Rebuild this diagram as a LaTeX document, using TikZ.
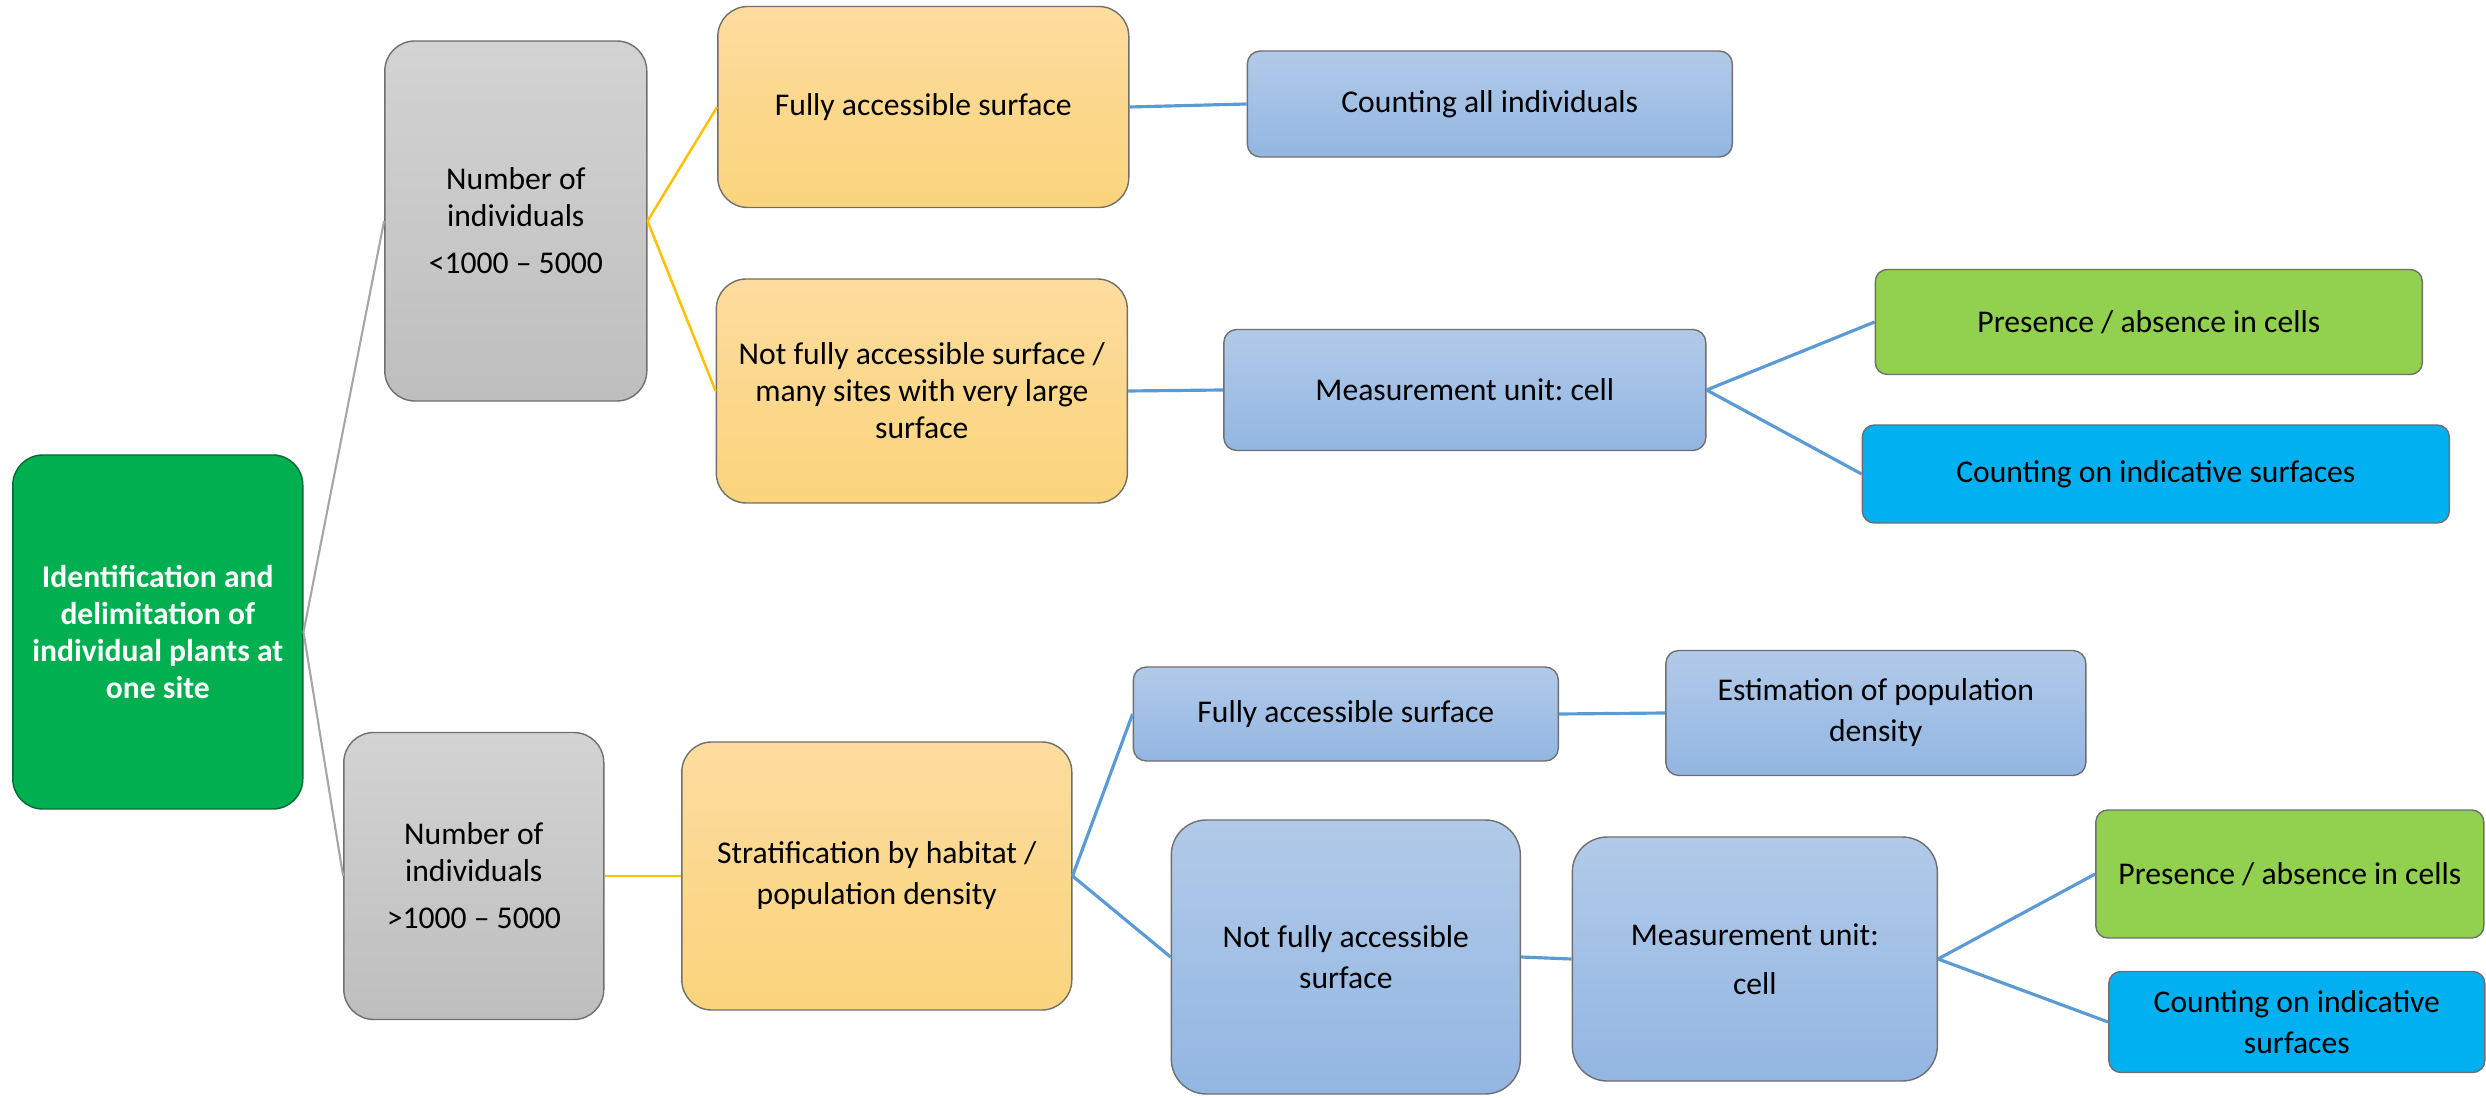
\documentclass[tikz,border=0pt]{standalone}
\usepackage{fontspec}
\setmainfont{Carlito}
\usepackage{tikz}
\frenchspacing

\definecolor{rootgreen}{HTML}{00B050}
\definecolor{greytop}{HTML}{D3D3D3}
\definecolor{greybot}{HTML}{BEBEBE}
\definecolor{orangetop}{HTML}{FDDC9E}
\definecolor{orangebot}{HTML}{FBD47C}
\definecolor{bluetop}{HTML}{B2CAE9}
\definecolor{bluebot}{HTML}{92B6E2}
\definecolor{lightgreen}{HTML}{92D050}
\definecolor{cyanbox}{HTML}{00B0F0}
\definecolor{lineblue}{HTML}{5B9BD5}
\definecolor{lineyellow}{HTML}{FFC000}
\definecolor{linegrey}{HTML}{A6A6A6}
\definecolor{edgegrey}{HTML}{6F6F6F}

\begin{document}
\begin{tikzpicture}[node distance=4cm, every node/.style={rectangle, align=center, inner sep=2pt, font=\fontsize{9}{10.5}\selectfont},
    rootbox/.style={draw=rootgreen!60!black, line width=0.4pt, fill=rootgreen, rounded corners=0.3cm, text=white, font=\fontsize{9}{10.6}\selectfont\bfseries},
    greybox/.style={draw=edgegrey, line width=0.4pt, top color=greytop, bottom color=greybot, rounded corners=0.3cm},
    orangebox/.style={draw=edgegrey, line width=0.4pt, top color=orangetop, bottom color=orangebot, rounded corners=0.3cm},
    bluebox/.style={draw=edgegrey, line width=0.4pt, top color=bluetop, bottom color=bluebot, rounded corners=0.13cm},
    greenbox/.style={draw=edgegrey, line width=0.4pt, fill=lightgreen, rounded corners=0.12cm},
    cyanbox/.style={draw=edgegrey, line width=0.4pt, fill=cyanbox, rounded corners=0.12cm},
    greyline/.style={linegrey, line width=0.6pt},
    yellowline/.style={lineyellow, line width=0.7pt},
    blueline/.style={lineblue, line width=0.9pt}]
        \useasboundingbox (0,0) rectangle (24.86,-10.98);

        % Nodes
        \node (Root) [rootbox, minimum width=2.90cm, minimum height=3.54cm] at (1.578,-6.32) {Identification and\\ delimitation of\\ individual plants at\\ one site};
        \node (Few) [greybox, minimum width=2.62cm, minimum height=3.60cm, right of=Root, xshift=-0.42cm, yshift=4.11cm] {Number of\\ individuals\\[0.1cm] <1000 -- 5000};
        \node (Many) [greybox, minimum width=2.60cm, minimum height=2.87cm, right of=Root, xshift=-0.84cm, yshift=-2.44cm] {Number of\\ individuals\\[0.1cm] >1000 -- 5000};

        \node (FullA) [orangebox, minimum width=4.11cm, minimum height=2.01cm, right of=Few, xshift=0.075cm, yshift=1.14cm] {Fully accessible surface};
        \node (PartA) [orangebox, minimum width=4.11cm, minimum height=2.24cm, right of=Few, xshift=0.06cm, yshift=-1.70cm] {Not fully accessible surface /\\ many sites with very large\\ surface};
        \node (CountAll) [bluebox, minimum width=4.85cm, minimum height=1.06cm, right of=FullA, xshift=1.665cm, yshift=0.03cm] {Counting all individuals};
        \node (CellA) [bluebox, minimum width=4.82cm, minimum height=1.21cm, right of=PartA, xshift=1.43cm, yshift=0.01cm] {Measurement unit: cell};
        \node (PresA) [greenbox, minimum width=5.47cm, minimum height=1.05cm, right of=CellA, xshift=2.84cm, yshift=0.68cm] {Presence / absence in cells};
        \node (IndA) [cyanbox, minimum width=5.87cm, minimum height=0.98cm, right of=CellA, xshift=2.91cm, yshift=-0.84cm] {Counting on indicative surfaces};

        \node (Strat) [orangebox, minimum width=3.90cm, minimum height=2.68cm, right of=Many, xshift=0.03cm] {Stratification by habitat /\\[0.04cm] population density};
        \node (FullB) [bluebox, minimum width=4.25cm, minimum height=0.94cm, right of=Strat, xshift=0.69cm, yshift=1.62cm] {Fully accessible surface};
        \node (Dens) [bluebox, minimum width=4.20cm, minimum height=1.25cm, right of=FullB, xshift=1.30cm, yshift=0.01cm] {Estimation of population\\[0.04cm] density};
        \node (PartB) [bluebox, rounded corners=0.35cm, minimum width=3.49cm, minimum height=2.74cm, right of=Strat, xshift=0.69cm, yshift=-0.81cm] {Not fully accessible\\[0.04cm] surface};
        \node (CellB) [bluebox, rounded corners=0.35cm, minimum width=3.65cm, minimum height=2.44cm, right of=PartB, xshift=0.09cm, yshift=-0.02cm] {Measurement unit:\\[0.12cm] cell};
        \node (PresB) [greenbox, minimum width=3.88cm, minimum height=1.28cm, right of=CellB, xshift=1.35cm, yshift=0.85cm] {Presence / absence in cells};
        \node (IndB) [cyanbox, minimum width=3.76cm, minimum height=1.01cm, right of=CellB, xshift=1.42cm, yshift=-0.63cm] {Counting on indicative\\[0.04cm] surfaces};

        % Lines
        \draw[greyline] (Root.east) -- (Few.west);
        \draw[greyline] (Root.east) -- (Many.west);
        \draw[yellowline] (Few.east) -- (FullA.west);
        \draw[yellowline] (Few.east) -- (PartA.west);
        \draw[yellowline] (Many.east) -- (Strat.west);
        \draw[blueline] (FullA.east) -- (CountAll.west);
        \draw[blueline] (PartA.east) -- (CellA.west);
        \draw[blueline] (CellA.east) -- (PresA.west);
        \draw[blueline] (CellA.east) -- (IndA.west);
        \draw[blueline] (Strat.east) -- (FullB.west);
        \draw[blueline] (Strat.east) -- (PartB.west);
        \draw[blueline] (FullB.east) -- (Dens.west);
        \draw[blueline] (PartB.east) -- (CellB.west);
        \draw[blueline] (CellB.east) -- (PresB.west);
        \draw[blueline] (CellB.east) -- (IndB.west);
    \end{tikzpicture}
\end{document}
